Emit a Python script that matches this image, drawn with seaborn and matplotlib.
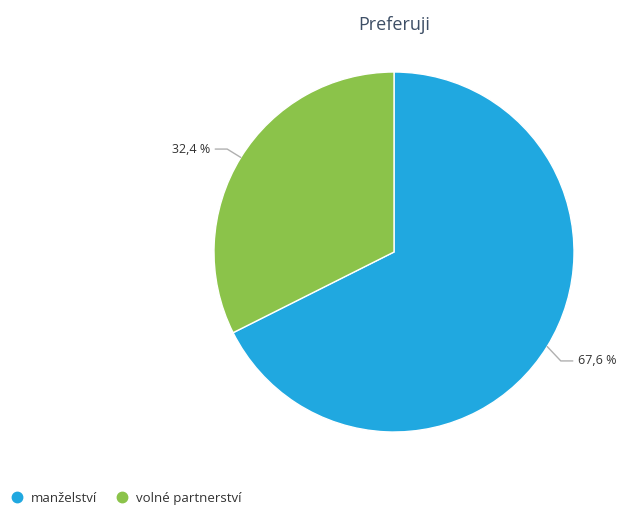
import numpy as np
import matplotlib
matplotlib.use("Agg")
import matplotlib.pyplot as plt
from matplotlib.lines import Line2D
import seaborn as sns

title = "Preferuji"
categories = ["manželství", "volné partnerství"]
values = [67.6, 32.4]
value_labels = ["67,6 %", "32,4 %"]
colors = ["#20a8e0", "#8bc34a"]

sns.set_theme(style="white")
plt.rcParams['font.family'] = ['Open Sans', 'DejaVu Sans']

W, H = 623, 508
fig = plt.figure(figsize=(W / 100, H / 100), dpi=100)
ax = fig.add_axes([0, 0, 1, 1])

cx, cy, r = 394, H - 252, 180
wedges, _ = ax.pie(values, colors=colors, startangle=90, counterclock=False,
                   center=(cx, cy), radius=r, frame=True,
                   wedgeprops=dict(edgecolor="white", linewidth=1))
ax.set_xlim(0, W)
ax.set_ylim(0, H)
ax.set_aspect("equal")
ax.axis("off")

# connector lines + data labels
for w, lab in zip(wedges, value_labels):
    ang = np.deg2rad((w.theta1 + w.theta2) / 2)
    c, s = np.cos(ang), np.sin(ang)
    p0 = (cx + r * c, cy + r * s)
    p1 = (cx + (r + 16) * c, cy + (r + 16) * s - (6 if c > 0 else 0))
    side = 1 if c > 0 else -1
    p2 = (p1[0] + side * 12, p1[1])
    ax.plot([p0[0], p1[0], p2[0]], [p0[1], p1[1], p2[1]],
            color="#b0b0b0", lw=1, solid_capstyle="round")
    ax.text(p2[0] + side * 5, p2[1], lab, ha="left" if side > 0 else "right",
            va="center", fontsize=9, color="#333333")

fig.text(394 / W, 1 - 25 / H, title, ha="center", va="center",
         fontsize=13, color="#3e4f66")

handles = [Line2D([0], [0], marker="o", linestyle="", markersize=7.5,
                  markerfacecolor=col, markeredgecolor=col) for col in colors]
fig.legend(handles, categories, loc="lower left", bbox_to_anchor=(4 / W, 3 / H),
           ncol=2, frameon=False, fontsize=9.5, handletextpad=0.05,
           columnspacing=0.9, borderpad=0, borderaxespad=0,
           labelcolor="#333333")

fig.savefig("out.png", dpi=100)
